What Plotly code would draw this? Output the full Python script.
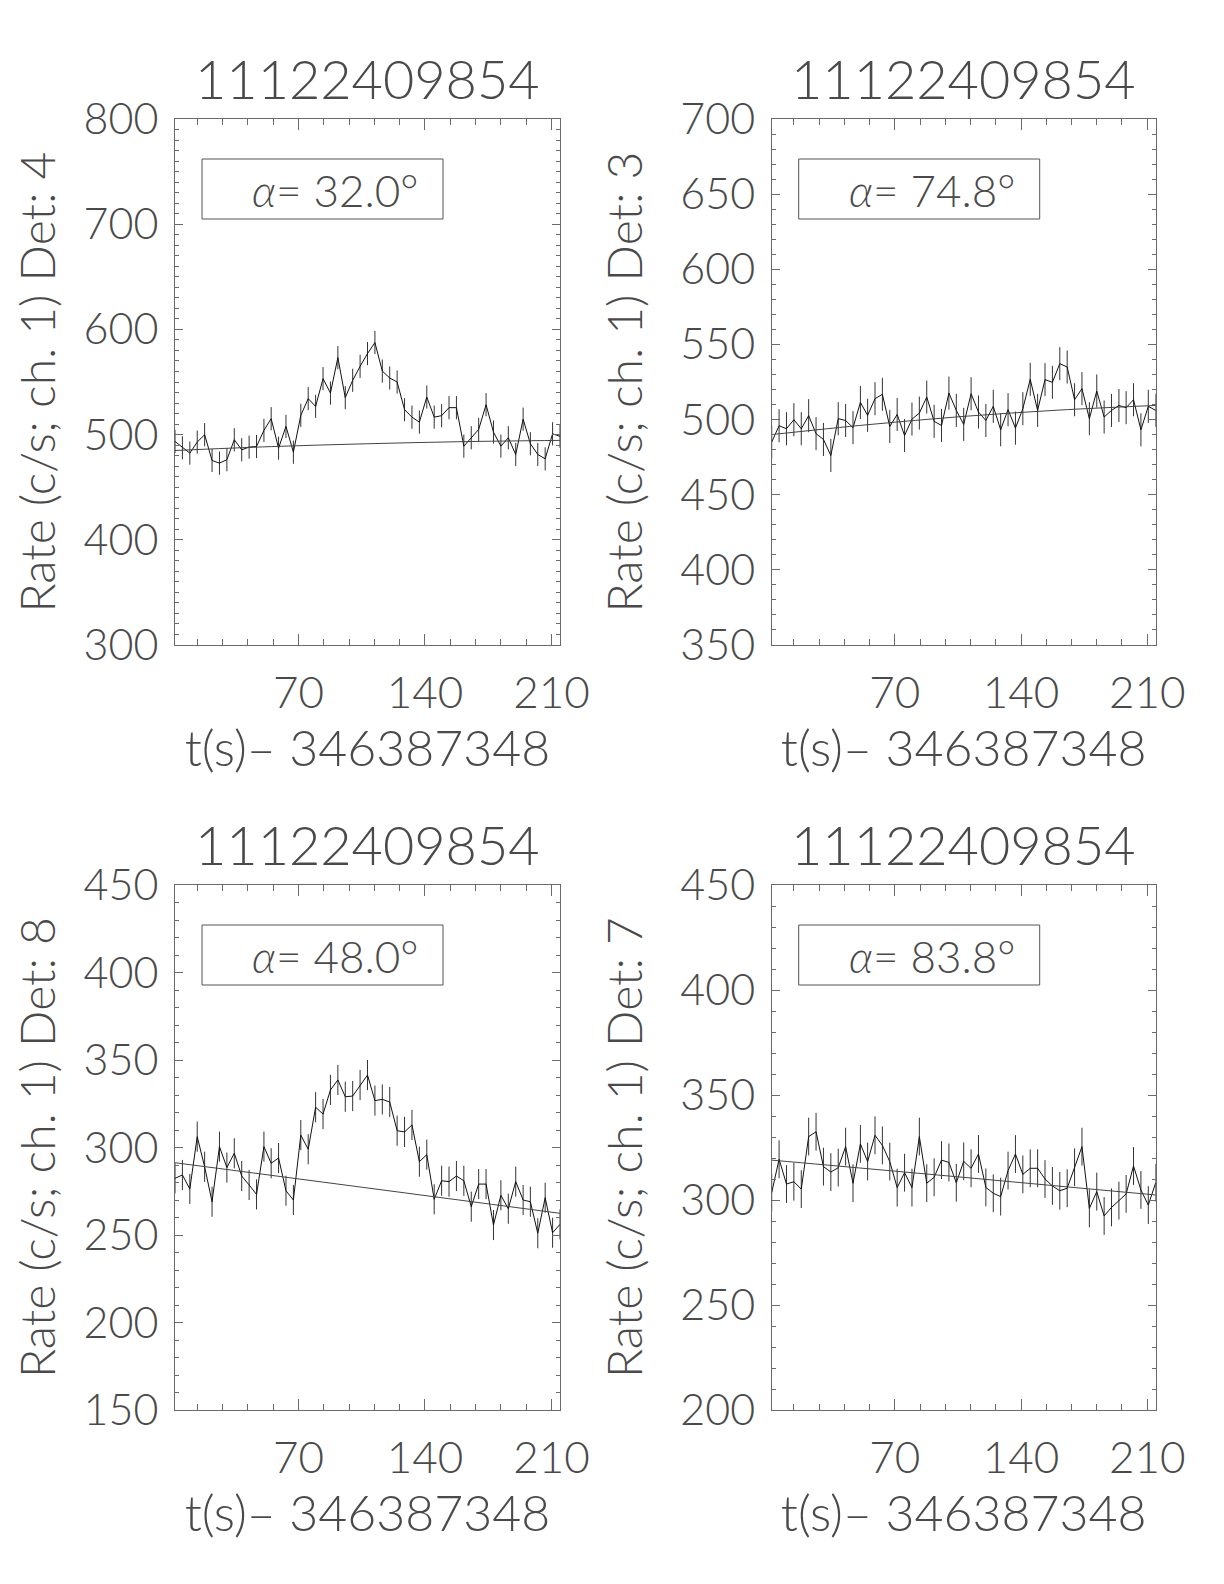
import plotly.graph_objects as go

# ---------------- data ----------------
t_sec = [1.7, 5.8, 9.9, 14.0, 18.1, 22.2, 26.3, 30.4, 34.5, 38.6, 42.7, 46.8, 50.9,
         54.9, 59.0, 63.1, 67.2, 71.3, 75.4, 79.5, 83.6, 87.7, 91.8, 95.9, 100.0,
         104.1, 108.2, 112.3, 116.4, 120.5, 124.6, 128.7, 132.8, 136.9, 141.0, 145.1,
         149.2, 153.3, 157.4, 161.5, 165.6, 169.7, 173.8, 177.9, 182.0, 186.1, 190.2,
         194.3, 198.3, 202.4, 206.5, 210.6, 214.7]

rate_det4 = [493.5, 487.5, 482.4, 492.9, 499.9, 475.4, 472.9, 476.1, 495.1, 485.6,
             488.1, 488.7, 504.0, 515.1, 487.1, 507.8, 483.3, 518.3, 534.2, 526.8,
             553.2, 539.5, 573.2, 535.1, 551.6, 564.9, 577.0, 587.5, 560.4, 553.8,
             550.0, 523.7, 516.6, 511.9, 535.7, 516.6, 518.0, 525.6, 525.6, 489.0,
             497.0, 504.9, 528.4, 502.4, 489.0, 497.0, 481.1, 514.7, 491.3, 481.1,
             477.0, 500.8, 498.3]
rate_det3 = [485.0, 495.9, 493.9, 499.9, 493.9, 502.6, 490.6, 486.8, 476.1, 500.6,
             499.4, 494.6, 511.4, 502.8, 513.9, 516.8, 495.4, 503.4, 489.4, 500.3,
             504.3, 515.0, 498.8, 496.1, 517.6, 506.1, 496.8, 517.2, 505.0, 499.4,
             508.8, 493.2, 506.6, 494.3, 507.2, 526.8, 506.1, 526.6, 524.8, 537.2,
             535.0, 513.2, 520.6, 500.6, 519.0, 501.7, 506.1, 509.4, 507.9, 513.2,
             493.2, 508.8, 506.1]
rate_det8 = [282.4, 284.3, 276.3, 306.2, 289.0, 269.0, 300.5, 288.5, 296.7, 283.7,
             278.6, 273.2, 300.5, 291.0, 294.0, 275.3, 270.0, 307.1, 299.0, 323.0,
             319.1, 332.9, 338.6, 329.0, 329.4, 335.7, 341.4, 326.8, 327.5, 326.0,
             309.6, 308.9, 312.9, 291.9, 295.9, 270.4, 281.0, 280.5, 283.7, 281.0,
             266.2, 279.1, 279.1, 255.7, 272.7, 265.0, 280.5, 270.0, 269.0, 251.0,
             271.3, 251.3, 256.1]
rate_det7 = [303.5, 319.4, 307.6, 308.7, 305.2, 330.2, 332.5, 315.9, 313.3, 315.4,
             325.4, 308.0, 326.7, 318.3, 330.8, 326.0, 318.3, 305.9, 313.0, 305.9,
             330.2, 308.0, 310.8, 319.0, 317.9, 308.2, 318.4, 315.1, 321.9, 306.0,
             303.2, 301.6, 314.0, 321.9, 312.2, 315.1, 315.1, 310.0, 306.7, 304.4,
             305.6, 315.6, 325.4, 296.0, 304.0, 292.4, 296.5, 299.7, 302.9, 316.2,
             304.8, 297.6, 308.2]

err_det4 = 11.0
err_det3 = 11.0
err_det8 = 8.6
err_det7 = 9.0

bg_t = [1.7, 55.0, 108.0, 161.0, 214.7]
bg_det4 = [484.9, 488.6, 491.3, 493.3, 494.5]
bg_det3 = [490.0, 496.6, 502.1, 506.3, 509.4]
bg_det8 = [291.3, 284.1, 276.9, 269.7, 262.4]
bg_det7 = [319.0, 314.9, 310.8, 306.6, 302.4]

titles = ["11122409854", "11122409854", "11122409854", "11122409854"]
det_labels = ["4", "3", "8", "7"]
alphas = ["32.0", "74.8", "48.0", "83.8"]
y_ranges = [[300, 800], [350, 700], [150, 450], [200, 450]]
y_dticks = [100, 50, 50, 50]
x_title = "t(s)\u2013 346387348"

# ---------------- layout helpers ----------------
OFF = 8
W, H = 1216, 1576


def xd(px):
    return (px - OFF) / W


def yd(py):
    return 1 - (py - OFF) / H


boxes = [
    (175, 560, 119, 645),
    (771.7, 1155.7, 119, 645),
    (175, 560, 885, 1410),
    (771.7, 1155.7, 885, 1410),
]

FONT = "Lato"
WT = 300
TXT = "#4a4a4a"
AXC = "#6a6a6a"

rates = [rate_det4, rate_det3, rate_det8, rate_det7]
errs = [err_det4, err_det3, err_det8, err_det7]
bgs = [bg_det4, bg_det3, bg_det8, bg_det7]

fig = go.Figure()
layout = dict(
    width=W, height=H,
    margin=dict(l=0, r=0, t=0, b=0, autoexpand=False),
    paper_bgcolor="white", plot_bgcolor="white",
    showlegend=False,
    font=dict(family=FONT, color=TXT, weight=WT),
)
annotations = []
shapes = []

for i in range(4):
    n = "" if i == 0 else str(i + 1)
    xa, ya = "x" + n, "y" + n
    x0, x1, y0, y1 = boxes[i]
    # data with error bars
    fig.add_trace(go.Scatter(
        x=t_sec, y=rates[i], xaxis=xa, yaxis=ya, mode="lines",
        line=dict(color="#111111", width=1),
        error_y=dict(type="constant", value=errs[i], width=0, thickness=1,
                     color="#333333"),
        hoverinfo="x+y",
    ))
    # background fit
    fig.add_trace(go.Scatter(
        x=bg_t, y=bgs[i], xaxis=xa, yaxis=ya, mode="lines",
        line=dict(color="#444444", width=1, shape="spline"),
        hoverinfo="skip",
    ))
    layout["xaxis" + n] = dict(
        domain=[xd(x0), xd(x1)], anchor=ya, range=[1.7, 214.7],
        automargin=False,
        tickmode="linear", tick0=0, dtick=70,
        ticks="inside", ticklen=11, tickwidth=1, tickcolor=AXC,
        minor=dict(ticks="inside", dtick=14, tick0=0, ticklen=6,
                   tickwidth=1, tickcolor=AXC),
        showline=True, linecolor=AXC, linewidth=1, mirror="ticks",
        showgrid=False, zeroline=False,
        tickfont=dict(family=FONT, size=44, color=TXT, weight=WT),
        ticklabelstandoff=9,
        title=dict(text=x_title, font=dict(family=FONT, size=50, color=TXT, weight=WT),
                   standoff=1),
    )
    layout["yaxis" + n] = dict(
        domain=[yd(y1), yd(y0)], anchor=xa, range=y_ranges[i],
        automargin=False,
        tickmode="linear", tick0=0, dtick=y_dticks[i],
        ticks="inside", ticklen=8, tickwidth=1, tickcolor=AXC,
        minor=dict(ticks="inside", dtick=10, tick0=0, ticklen=4,
                   tickwidth=1, tickcolor=AXC),
        showline=True, linecolor=AXC, linewidth=1, mirror="ticks",
        showgrid=False, zeroline=False,
        tickfont=dict(family=FONT, size=43, color=TXT, weight=WT),
        ticklabelstandoff=7,
        title=dict(text="Rate (c/s; ch. 1) Det: " + det_labels[i],
                   font=dict(family=FONT, size=48, color=TXT, weight=WT),
                   standoff=22),
    )
    # panel title
    annotations.append(dict(
        text=titles[i], xref=xa + " domain", yref=ya + " domain",
        x=0.5, y=1, yshift=40, xanchor="center", yanchor="middle",
        showarrow=False, font=dict(family=FONT, size=54, color=TXT, weight=WT),
    ))
    # alpha box
    shapes.append(dict(
        type="rect", xref=xa + " domain", yref=ya + " domain",
        x0=27 / (x1 - x0), x1=268 / (x1 - x0),
        y0=1 - 100 / (y1 - y0), y1=1 - 40 / (y1 - y0),
        line=dict(color="#555555", width=1), fillcolor="rgba(0,0,0,0)",
    ))
    annotations.append(dict(
        text="<i>\u03b1</i>= " + alphas[i] + "\u00b0",
        xref=xa + " domain", yref=ya + " domain",
        x=160 / (x1 - x0), y=1 - 71 / (y1 - y0),
        xanchor="center", yanchor="middle", showarrow=False,
        font=dict(family=FONT, size=44, color=TXT, weight=WT),
    ))

layout["annotations"] = annotations
layout["shapes"] = shapes
fig.update_layout(**layout)
fig.write_html("out.html")
